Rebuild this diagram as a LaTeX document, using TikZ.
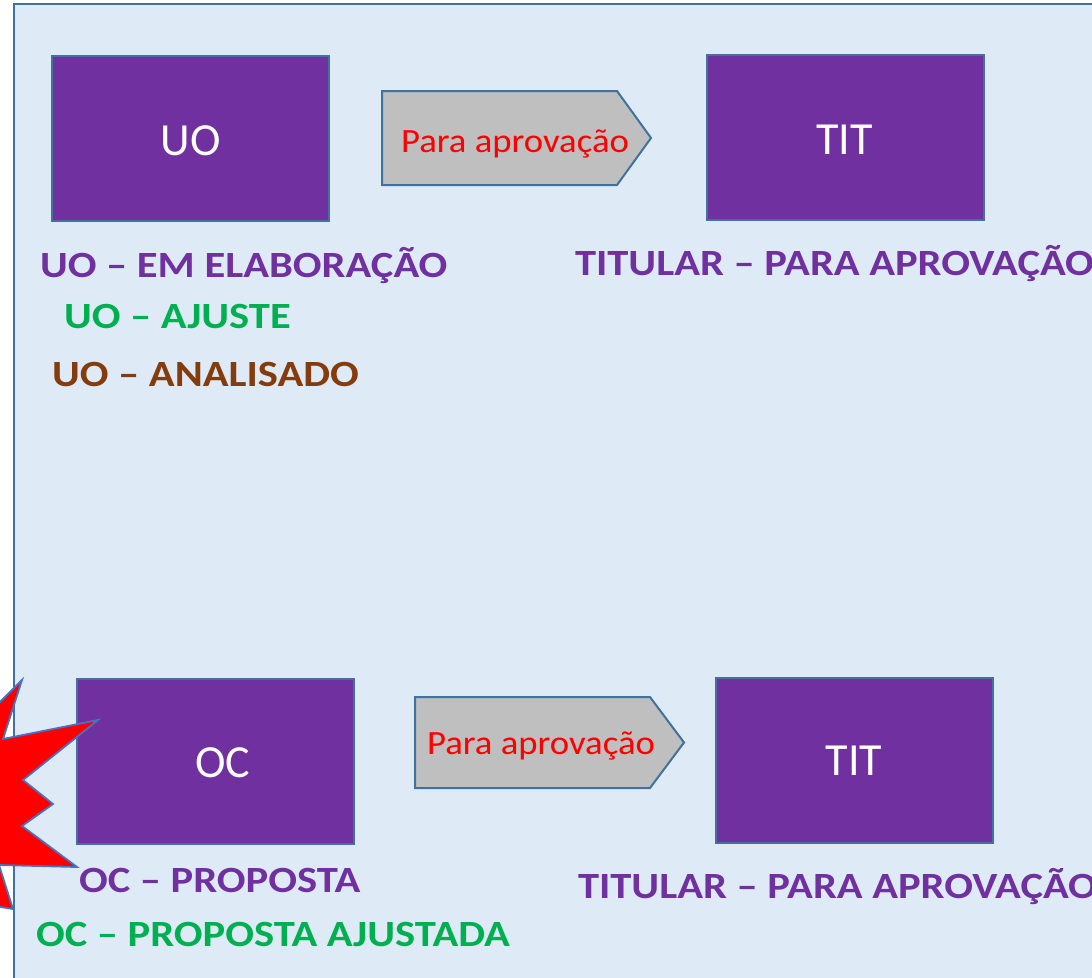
\documentclass[tikz,border=0pt]{standalone}
\usepackage{fontspec}
\setmainfont{Carlito}
\newfontfamily\lblfont[FakeStretch=1.15]{Carlito}
\newfontfamily\arrfont[FakeStretch=1.08]{Carlito}
\begin{document}
\begin{tikzpicture}[x=1pt,y=-1pt,
  every node/.style={inner sep=0pt, outer sep=0pt},
  box/.style={draw=bordc, line width=2pt, fill=boxpurple, minimum width=277pt, minimum height=165pt},
  boxtext/.style={anchor=base, text=white, font=\fontsize{46}{50}\selectfont},
  arrowtext/.style={anchor=base, text=red, font=\arrfont\fontsize{34}{38}\selectfont},
  lbl/.style={anchor=base west, font=\lblfont\bfseries\fontsize{37}{42}\selectfont},
  pentarrow/.style={draw=bordc, line width=2pt, fill=arrowgray, line join=miter}
]
\definecolor{bgblue}{HTML}{DEEBF7}
\definecolor{bordc}{HTML}{41719C}
\definecolor{boxpurple}{HTML}{7030A0}
\definecolor{arrowgray}{HTML}{BFBFBF}
\definecolor{okgreen}{HTML}{00B050}
\definecolor{brownc}{HTML}{843C0C}
\definecolor{starblue}{HTML}{4472C4}
\useasboundingbox (0,0) rectangle (1092,977);
\clip (0,0) rectangle (1092,977);
\fill[white] (0,0) rectangle (1092,977);
% background panel
\draw[draw=bordc, line width=2pt, fill=bgblue] (14,4) rectangle (1110,1000);

% top row
\node[box] (uo) at (190.5,138.5) {};
\node[boxtext] (uot) at (190.5,155) {UO};
\node[box] (tit1) at (845,137.5) {};
\node[boxtext] (tit1t) at (844.5,154) {TIT};
\draw[pentarrow] (382,91) -- (617,91) -- (651,138) -- (617,185) -- (382,185) -- cycle;
\node[arrowtext] (pa1) at (515,152) {Para aprova\c{c}\~ao};

\node[lbl, text=boxpurple] (l1) at (40,277) {UO – EM ELABORAÇÃO};
\node[lbl, text=okgreen] (l2) at (64,328) {UO – AJUSTE};
\node[lbl, text=brownc] (l3) at (52,386) {UO – ANALISADO};
\node[lbl, text=boxpurple] (l4) at (575,275) {TITULAR – PARA APROVAÇÃO};

% bottom row
\node[box] (oc) at (215,761.5) {};
\node[boxtext] (oct) at (223,777) {OC};
\node[box] (tit2) at (854.5,760.5) {};
\node[boxtext] (tit2t) at (854,775) {TIT};
\draw[pentarrow] (415,697) -- (650,697) -- (684,742.5) -- (650,788) -- (415,788) -- cycle;
\node[arrowtext] (pa2) at (541,754) {Para aprova\c{c}\~ao};

\node[lbl, text=boxpurple] (l5) at (79,892) {OC – PROPOSTA};
\node[lbl, text=okgreen] (l6) at (36,946) {OC – PROPOSTA AJUSTADA};
\node[lbl, text=boxpurple] (l7) at (578,898) {TITULAR – PARA APROVAÇÃO};

% starburst
\draw[draw=starblue, line width=1.8pt, fill=red, line join=miter]
  (-20,722) -- (22,680) -- (3,739) -- (98,720) -- (23,780) -- (53,804) -- (22,826)
  -- (77,867) -- (-1,865) -- (13,909) -- (-30,902) -- cycle;
\end{tikzpicture}
\end{document}
